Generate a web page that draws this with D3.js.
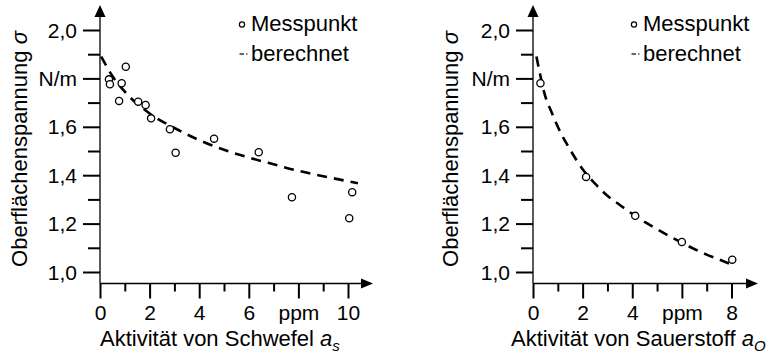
<!DOCTYPE html>
<html><head><meta charset="utf-8">
<script src="https://cdn.jsdelivr.net/npm/d3@7"></script>
<style>
body{margin:0;background:#fff}
svg{display:block}
text{font-family:"Liberation Sans",Arial,sans-serif;fill:#000}
</style>
</head><body>
<svg id="c" width="772" height="353"></svg>
<script>
// ---- data ----
// Left panel: sulphur
const sMessA     = [0.36, 0.40, 0.77, 0.875, 1.04, 1.54, 1.84, 2.06, 2.82, 3.05, 4.6, 6.4, 7.74, 10.05, 10.17];
const sMessSigma = [1.796, 1.776, 1.707, 1.78, 1.848, 1.704, 1.69, 1.635, 1.59, 1.493, 1.551, 1.495, 1.309, 1.222, 1.33];
const sCalcA     = [0.05, 0.5, 1, 2, 3, 4, 5, 6, 7, 8, 9, 10, 10.4];
const sCalcSigma = [1.89, 1.81, 1.745, 1.655, 1.595, 1.545, 1.505, 1.473, 1.445, 1.418, 1.396, 1.375, 1.367];
// Right panel: oxygen
const oMessA     = [0.3, 2.14, 4.12, 6.0, 8.03];
const oMessSigma = [1.78, 1.393, 1.232, 1.124, 1.051];
const oCalcA     = [0.14, 0.3, 0.47, 0.75, 1.0, 1.5, 2.0, 2.5, 3.0, 3.5, 4.0, 4.5, 5.0, 5.5, 6.0, 6.5, 7.0, 7.5, 7.9];
const oCalcSigma = [1.89, 1.81, 1.735, 1.66, 1.60, 1.505, 1.425, 1.365, 1.315, 1.277, 1.24, 1.207, 1.177, 1.148, 1.121, 1.095, 1.072, 1.052, 1.035];
// ticks
const yTickValues = [1.0, 1.2, 1.4, 1.6, 1.8, 2.0];
const yTickLabels = ["1,0", "1,2", "1,4", "1,6", "N/m", "2,0"];
const yMinorTicks = [1.1, 1.3, 1.5, 1.7, 1.9];
const sXTickValues = [0, 2, 4, 6, 8, 10];
const sXTickLabels = ["0", "2", "4", "6", "ppm", "10"];
const sXMinorTicks = [1, 3, 5, 7, 9];
const oXTickValues = [0, 2, 4, 6, 8];
const oXTickLabels = ["0", "2", "4", "ppm", "8"];
const oXMinorTicks = [1, 3, 5, 7];
const legendLabels = ["Messpunkt", "berechnet"];
const yTitle = "Oberflächenspannung ";
const sXTitle = "Aktivität von Schwefel ";
const oXTitle = "Aktivität von Sauerstoff ";

const svg = d3.select("#c");
const FS = 21;   // tick labels
const TS = 22;   // titles & legend

function panel(cfg) {
  const g = svg.append("g");
  const x = d3.scaleLinear().domain([0, cfg.xMax]).range([cfg.x0, cfg.x1]);
  const y = d3.scaleLinear().domain([1, 2]).range([272, 30]);
  const axisY = 283.5;

  // y axis major ticks + labels
  const yAx = g.append("g").attr("transform", `translate(${cfg.x0},0)`)
    .call(d3.axisLeft(y).tickValues(yTickValues).tickSize(17).tickPadding(6)
      .tickFormat((d, i) => yTickLabels[i]));
  yAx.select(".domain").remove();
  yAx.selectAll("line").attr("stroke", "#000").attr("stroke-width", 2);
  yAx.selectAll("text").attr("font-size", FS).attr("font-family", null).attr("dy", "0.34em");
  const yMin = g.append("g").attr("transform", `translate(${cfg.x0},0)`)
    .call(d3.axisLeft(y).tickValues(yMinorTicks).tickSize(12).tickFormat(""));
  yMin.select(".domain").remove();
  yMin.selectAll("line").attr("stroke", "#000").attr("stroke-width", 2);

  // x axis
  const xAx = g.append("g").attr("transform", `translate(0,${axisY})`)
    .call(d3.axisBottom(x).tickValues(cfg.xt).tickSize(15).tickPadding(7)
      .tickFormat((d, i) => cfg.xl[i]));
  xAx.select(".domain").remove();
  xAx.selectAll("line").attr("stroke", "#000").attr("stroke-width", 2);
  xAx.selectAll("text").attr("font-size", FS).attr("font-family", null);
  const xMin = g.append("g").attr("transform", `translate(0,${axisY})`)
    .call(d3.axisBottom(x).tickValues(cfg.xm).tickSize(8).tickFormat(""));
  xMin.select(".domain").remove();
  xMin.selectAll("line").attr("stroke", "#000").attr("stroke-width", 2);

  // axis lines with arrows
  g.append("line").attr("x1", cfg.x0).attr("x2", cfg.x0).attr("y1", axisY).attr("y2", 14)
    .attr("stroke", "#000").attr("stroke-width", 1.3);
  g.append("path").attr("d", `M${cfg.x0},5 L${cfg.x0 - 5.5},17 L${cfg.x0 + 5.5},17 Z`).attr("fill", "#000");
  g.append("line").attr("x1", cfg.x0).attr("x2", cfg.xEnd - 8).attr("y1", axisY).attr("y2", axisY)
    .attr("stroke", "#000").attr("stroke-width", 1.3);
  g.append("path").attr("d", `M${cfg.xEnd},${axisY} L${cfg.xEnd - 12},${axisY - 5} L${cfg.xEnd - 12},${axisY + 5} Z`).attr("fill", "#000");

  // calculated curve
  const calc = cfg.ca.map((a, i) => [a, cfg.cs[i]]);
  g.append("path").datum(calc)
    .attr("d", d3.line().x(d => x(d[0])).y(d => y(d[1])).curve(d3.curveMonotoneX))
    .attr("fill", "none").attr("stroke", "#000").attr("stroke-width", 2.6)
    .attr("stroke-dasharray", "10,7");

  // measured points
  const pts = cfg.ma.map((a, i) => [a, cfg.ms[i]]);
  g.selectAll("circle.pt").data(pts).enter().append("circle").attr("class", "pt")
    .attr("cx", d => x(d[0])).attr("cy", d => y(d[1])).attr("r", 3.6)
    .attr("fill", "#fff").attr("stroke", "#000").attr("stroke-width", 1.3);

  // y title
  const yt = g.append("text").attr("font-size", TS).attr("text-anchor", "middle")
    .attr("transform", `translate(${cfg.yTitleX},149) rotate(-90)`);
  yt.append("tspan").text(yTitle);
  yt.append("tspan").attr("font-style", "italic").text("σ");

  // x title
  const xt = g.append("text").attr("font-size", TS).attr("x", cfg.xTitleX).attr("y", 346);
  xt.append("tspan").text(cfg.xTitle);
  xt.append("tspan").attr("font-style", "italic").text("a");
  xt.append("tspan").attr("font-style", "italic").attr("font-size", 15).attr("dy", 5).text(cfg.sub);

  // legend
  const lx = cfg.legX;
  g.append("circle").attr("cx", lx).attr("cy", 24.5).attr("r", 2.6)
    .attr("fill", "#fff").attr("stroke", "#000").attr("stroke-width", 1.2);
  g.append("text").attr("x", lx + 9).attr("y", 31).attr("font-size", TS).text(legendLabels[0]);
  g.append("line").attr("x1", lx - 2.5).attr("x2", lx + 2).attr("y1", 54).attr("y2", 54)
    .attr("stroke", "#000").attr("stroke-width", 1.2);
  g.append("line").attr("x1", lx + 4).attr("x2", lx + 5.5).attr("y1", 54).attr("y2", 54)
    .attr("stroke", "#000").attr("stroke-width", 1.2);
  g.append("text").attr("x", lx + 9).attr("y", 61).attr("font-size", TS).text(legendLabels[1]);
}

panel({x0: 100, x1: 348, xMax: 10, xEnd: 373, xt: sXTickValues, xl: sXTickLabels, xm: sXMinorTicks,
  ca: sCalcA, cs: sCalcSigma, ma: sMessA, ms: sMessSigma, yTitleX: 27, xTitle: sXTitle, xTitleX: 100,
  sub: "s", legX: 242});
panel({x0: 533, x1: 731.5, xMax: 8, xEnd: 758, xt: oXTickValues, xl: oXTickLabels, xm: oXMinorTicks,
  ca: oCalcA, cs: oCalcSigma, ma: oMessA, ms: oMessSigma, yTitleX: 458, xTitle: oXTitle, xTitleX: 511,
  sub: "O", legX: 634});
</script>
</body></html>
